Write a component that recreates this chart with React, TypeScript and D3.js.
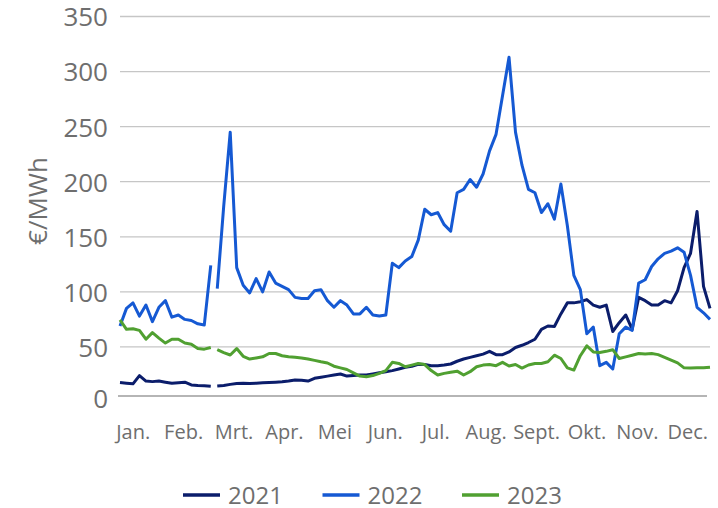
import { useEffect, useRef } from 'react';

import * as d3 from 'd3';

const WIDTH = 718;
const HEIGHT = 508;

const PLOT = {
  left: 120, right: 710, top: 16.5, zero: 402, axis: 396,
};

const FONT = '"Open Sans", "Noto Sans", sans-serif';
const TEXT_COLOR = '#6e6e6e';

const months = ['Jan.', 'Feb.', 'Mrt.', 'Apr.', 'Mei', 'Jun.', 'Jul.', 'Aug.', 'Sept.', 'Okt.', 'Nov.', 'Dec.'];
const yTicks = [0, 50, 100, 150, 200, 250, 300, 350];

// one value every 4 days from 1 Jan; the axis has a 29 Feb, so the lines break there
const STEP = 4;
const LEAP_DAY = 59;

const prices2021 = [
  17.6, 17, 16.5, 24, 19, 18.5, 19, 18, 17, 17.5,
  18, 15.5, 15, 14.8, 14.3, 14.5, 15, 16, 16.8, 17,
  16.8, 17, 17.4, 17.8, 18, 18.3, 19, 20, 19.8, 19,
  21.5, 22.5, 23.5, 24.5, 25.4, 23.5, 24, 24.5, 24.5, 25.5,
  26.5, 27.5, 28.5, 30, 31.5, 32.5, 34.3, 34, 33, 33,
  33.5, 34.5, 37, 39, 40.5, 42, 43.5, 46, 43, 43,
  45.5, 49.5, 51.5, 54, 57, 66, 69, 68.5, 80, 90,
  90, 91, 93, 88, 86, 88, 64, 72, 79, 66,
  95, 92, 88, 88, 92, 90, 101, 122, 135, 173,
  105, 85,
];

const prices2022 = [
  69, 85, 90, 78, 88, 73, 86, 92, 77, 79,
  75, 74, 71, 70, 124, 103, 178, 245, 122, 106,
  99, 112, 100, 118, 108, 105, 102, 95, 94, 94,
  101, 102, 92, 86, 92, 88, 80, 80, 86, 79,
  78, 79, 126, 122, 128, 132, 147, 175, 170, 172,
  161, 155, 190, 193, 202, 195, 207, 228, 243, 278,
  313, 245, 215, 193, 190, 172, 180, 166, 198, 160,
  115, 102, 62, 68, 33, 36, 30, 62, 68, 65,
  108, 111, 123, 130, 135, 137, 140, 136, 115, 86,
  81, 75,
];

const prices2023 = [
  74.5, 66, 66.5, 65, 57, 63, 58, 53.5, 57, 57,
  53.5, 52.4, 48.5, 48, 49.5, 47.5, 44.8, 42.7, 48.5, 41.5,
  39, 40, 41, 44, 44, 42, 41, 40.6, 40, 39,
  37.8, 36.5, 35.4, 32.5, 31, 29.5, 26.5, 23.5, 23, 24,
  26, 28.5, 36, 35, 32, 33.5, 35, 34, 28.5, 24.5,
  26, 27, 28, 24.5, 27.5, 32, 33.5, 34, 33, 36,
  32.7, 34, 30.8, 33.6, 35, 35, 36.6, 42.5, 39.5, 31,
  29, 42, 51, 45.5, 45, 46, 47.5, 39.5, 41, 42.5,
  44, 43.5, 44, 43, 40.6, 38, 35.5, 31, 30.8, 31,
  31, 31.5,
];

const series = [
  { name: '2021', values: prices2021, color: '#0b1d6b' },
  { name: '2022', values: prices2022, color: '#1559d3' },
  { name: '2023', values: prices2023, color: '#50a031' },
];

function App() {
  const svgRef = useRef(null);

  useEffect(() => {
    const svg = d3.select(svgRef.current);
    svg.selectAll('*').remove();

    const x = d3.scaleLinear()
      .domain([0, (prices2022.length - 1) * STEP])
      .range([PLOT.left, PLOT.right]);

    const y = d3.scaleLinear()
      .domain([0, 350])
      .range([PLOT.zero, PLOT.top]);

    const monthScale = d3.scaleBand()
      .domain(months)
      .range([108, 713]);

    // gridlines
    svg.append('g')
      .selectAll('line')
      .data(yTicks.filter((t) => t > 0))
      .join('line')
      .attr('x1', PLOT.left)
      .attr('x2', PLOT.right)
      .attr('y1', (d) => y(d))
      .attr('y2', (d) => y(d))
      .attr('stroke', '#c6c6c6')
      .attr('stroke-width', 1.3);

    svg.append('line')
      .attr('x1', 118)
      .attr('x2', 707)
      .attr('y1', PLOT.axis)
      .attr('y2', PLOT.axis)
      .attr('stroke', '#9c9c9c')
      .attr('stroke-width', 1.6);

    // y tick labels
    svg.append('g')
      .selectAll('text')
      .data(yTicks)
      .join('text')
      .attr('x', 108)
      .attr('y', (d) => (d === 0 ? PLOT.axis + 3 : y(d) + 0.5))
      .attr('dy', '0.36em')
      .attr('text-anchor', 'end')
      .attr('font-family', FONT)
      .attr('font-size', 26)
      .attr('fill', TEXT_COLOR)
      .text((d) => d);

    svg.append('text')
      .attr('transform', 'translate(38,201) rotate(-90)')
      .attr('dy', '0.36em')
      .attr('text-anchor', 'middle')
      .attr('font-family', FONT)
      .attr('font-size', 26)
      .attr('fill', TEXT_COLOR)
      .text('€/MWh');

    // month labels
    svg.append('g')
      .selectAll('text')
      .data(months)
      .join('text')
      .attr('x', (d) => (monthScale(d) || 0) + monthScale.bandwidth() / 2)
      .attr('y', 439)
      .attr('text-anchor', 'middle')
      .attr('font-family', FONT)
      .attr('font-size', 20)
      .attr('fill', TEXT_COLOR)
      .text((d) => d);

    const line = d3.line<{ day: number, value: number }>()
      .x((d) => x(d.day))
      .y((d) => y(d.value));

    series.forEach((s) => {
      const points = s.values.map((value, i) => ({ day: i * STEP, value }));
      const parts = [
        points.filter((p) => p.day < LEAP_DAY),
        points.filter((p) => p.day > LEAP_DAY),
      ];
      svg.append('g')
        .selectAll('path')
        .data(parts)
        .join('path')
        .attr('d', (d) => line(d))
        .attr('fill', 'none')
        .attr('stroke', s.color)
        .attr('stroke-width', 3)
        .attr('stroke-linejoin', 'round');
    });

    // legend
    const legend = svg.append('g')
      .selectAll('g')
      .data(series)
      .join('g')
      .attr('transform', (d, i) => `translate(${183 + i * 139.5},495)`);

    legend.append('line')
      .attr('x1', 0)
      .attr('x2', 37)
      .attr('stroke', (d) => d.color)
      .attr('stroke-width', 3.3);

    legend.append('text')
      .attr('x', 45)
      .attr('dy', '0.36em')
      .attr('font-family', FONT)
      .attr('font-size', 24)
      .attr('fill', TEXT_COLOR)
      .text((d) => d.name);
  }, []);

  return (
    <svg
      ref={svgRef}
      width={WIDTH}
      height={HEIGHT}
      style={{
        position: 'absolute', left: 0, top: 0, background: '#fff',
      }}
    />
  );
}

export default App;
